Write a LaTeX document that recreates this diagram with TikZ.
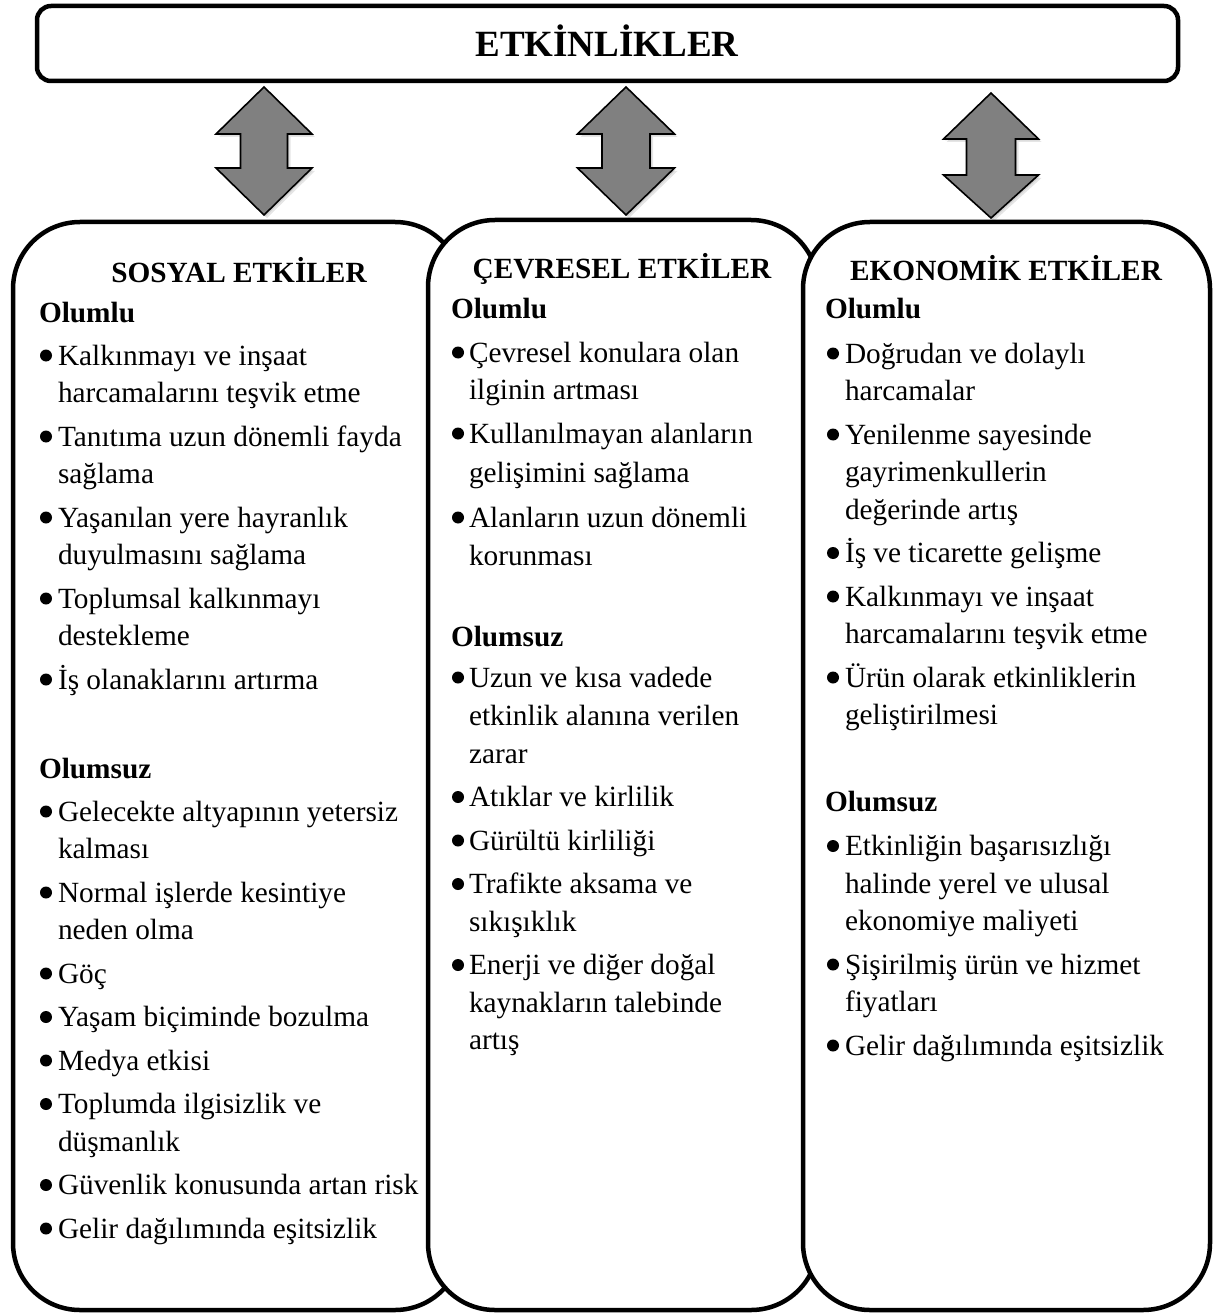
\documentclass[tikz,border=0pt]{standalone}
\usepackage{fontspec}
\setmainfont{Liberation Serif}
\begin{document}
\begin{tikzpicture}[x=1pt,y=-1pt,
  every node/.style={inner sep=0pt,outer sep=0pt},
  frame/.style={draw=black,line width=4.5pt,fill=white,rounded corners=67pt},
  titlebox/.style={draw=black,line width=4.5pt,fill=white,rounded corners=14pt},
  arrowshape/.style={draw=black,line width=1.6pt,fill=black!50,line join=miter},
  arrowhalo/.style={fill=black,opacity=0.10},
  titletext/.style={anchor=base,font=\fontsize{37}{44}\selectfont\bfseries},
  head/.style={anchor=base,font=\fontsize{29.3}{37.5}\selectfont\bfseries},
  sub/.style={anchor=base west,font=\fontsize{29.3}{37.5}\selectfont\bfseries},
  body/.style={anchor=base west,font=\fontsize{29.3}{37.5}\selectfont},
  dot/.style={circle,fill=black,minimum size=12pt}]

\useasboundingbox (0,0) rectangle (1222,1313);

% helper macros: one text line, and one bullet placed relative to a baseline
\newcommand\lineat[4]{\node[body] (#1) at (#2,#3) {#4};}
\newcommand\dotat[3]{\node[dot] (#1) at (#2,#3-9.5) {};}

% ---------- title box ----------
\draw[titlebox] (37,6) rectangle (1178,81);
\node[titletext] (title) at (607,57) {ETKİNLİKLER};

% ---------- double arrows ----------
\newcommand\updown[7]{% cx, top, upper base, lower base, bottom, head half, shaft half
  \foreach \s in {1.5,3} {
    \fill[arrowhalo] (#1+\s,#2+\s) -- (#1+#6+\s,#3+\s) -- (#1+#7+\s,#3+\s) -- (#1+#7+\s,#4+\s)
      -- (#1+#6+\s,#4+\s) -- (#1+\s,#5+\s) -- (#1-#6+\s,#4+\s) -- (#1-#7+\s,#4+\s)
      -- (#1-#7+\s,#3+\s) -- (#1-#6+\s,#3+\s) -- cycle;}
  \draw[arrowshape] (#1,#2) -- (#1+#6,#3) -- (#1+#7,#3) -- (#1+#7,#4) -- (#1+#6,#4)
    -- (#1,#5) -- (#1-#6,#4) -- (#1-#7,#4) -- (#1-#7,#3) -- (#1-#6,#3) -- cycle;}
\updown{264}{87}{134}{168}{215}{48}{23.5}
\updown{626}{87}{134}{168}{215}{48.5}{24}
\updown{991}{93}{139}{175}{218}{47.5}{24.5}

% ---------- three frames (later ones overlap earlier ones) ----------
\draw[frame] (13,222) rectangle (462,1310);
\draw[frame] (428,220) rectangle (818,1310);
\draw[frame] (803,222) rectangle (1210,1310);

% ---------- social column ----------
\node[head] (sosyal) at (239,283) {SOSYAL ETKİLER};
\node[sub] (s-olumlu) at (39,322) {Olumlu};
\dotat{sd1}{46}{365}   \lineat{s1a}{58}{365}{Kalkınmayı ve inşaat}
                       \lineat{s1b}{58}{402.5}{harcamalarını teşvik etme}
\dotat{sd2}{46}{446}   \lineat{s2a}{58}{446}{Tanıtıma uzun dönemli fayda}
                       \lineat{s2b}{58}{483.5}{sağlama}
\dotat{sd3}{46}{527}   \lineat{s3a}{58}{527}{Yaşanılan yere hayranlık}
                       \lineat{s3b}{58}{564.5}{duyulmasını sağlama}
\dotat{sd4}{46}{608}   \lineat{s4a}{58}{608}{Toplumsal kalkınmayı}
                       \lineat{s4b}{58}{645.5}{destekleme}
\dotat{sd5}{46}{689}   \lineat{s5a}{58}{689}{İş olanaklarını artırma}
\node[sub] (s-olumsuz) at (39,778) {Olumsuz};
\dotat{sd6}{46}{821}   \lineat{s6a}{58}{821}{Gelecekte altyapının yetersiz}
                       \lineat{s6b}{58}{858.5}{kalması}
\dotat{sd7}{46}{902}   \lineat{s7a}{58}{902}{Normal işlerde kesintiye}
                       \lineat{s7b}{58}{939.5}{neden olma}
\dotat{sd8}{46}{983}   \lineat{s8a}{58}{983}{Göç}
\dotat{sd9}{46}{1026.5}\lineat{s9a}{58}{1026.5}{Yaşam biçiminde bozulma}
\dotat{sd10}{46}{1070} \lineat{s10a}{58}{1070}{Medya etkisi}
\dotat{sd11}{46}{1113.5}\lineat{s11a}{58}{1113.5}{Toplumda ilgisizlik ve}
                       \lineat{s11b}{58}{1151}{düşmanlık}
\dotat{sd12}{46}{1194.5}\lineat{s12a}{58}{1194.5}{Güvenlik konusunda artan risk}
\dotat{sd13}{46}{1238} \lineat{s13a}{58}{1238}{Gelir dağılımında eşitsizlik}

% ---------- environmental column ----------
\node[head] (cevresel) at (622,279) {ÇEVRESEL ETKİLER};
\node[sub] (c-olumlu) at (451,319) {Olumlu};
\dotat{cd1}{458}{362}  \lineat{c1a}{469}{362}{Çevresel konulara olan}
                       \lineat{c1b}{469}{399}{ilginin artması}
\dotat{cd2}{458}{443}  \lineat{c2a}{469}{443}{Kullanılmayan alanların}
                       \lineat{c2b}{469}{482}{gelişimini sağlama}
\dotat{cd3}{458}{527}  \lineat{c3a}{469}{527}{Alanların uzun dönemli}
                       \lineat{c3b}{469}{565}{korunması}
\node[sub] (c-olumsuz) at (451,646) {Olumsuz};
\dotat{cd4}{458}{687}  \lineat{c4a}{469}{687}{Uzun ve kısa vadede}
                       \lineat{c4b}{469}{725}{etkinlik alanına verilen}
                       \lineat{c4c}{469}{763}{zarar}
\dotat{cd5}{458}{806.5}\lineat{c5a}{469}{806.5}{Atıklar ve kirlilik}
\dotat{cd6}{458}{850}  \lineat{c6a}{469}{850}{Gürültü kirliliği}
\dotat{cd7}{458}{893.5}\lineat{c7a}{469}{893.5}{Trafikte aksama ve}
                       \lineat{c7b}{469}{931}{sıkışıklık}
\dotat{cd8}{458}{974.5}\lineat{c8a}{469}{974.5}{Enerji ve diğer doğal}
                       \lineat{c8b}{469}{1012}{kaynakların talebinde}
                       \lineat{c8c}{469}{1049.5}{artış}

% ---------- economic column ----------
\node[head] (ekonomik) at (1006,281) {EKONOMİK ETKİLER};
\node[sub] (e-olumlu) at (825,318) {Olumlu};
\dotat{ed1}{833}{363}  \lineat{e1a}{845}{363}{Doğrudan ve dolaylı}
                       \lineat{e1b}{845}{400.5}{harcamalar}
\dotat{ed2}{833}{444}  \lineat{e2a}{845}{444}{Yenilenme sayesinde}
                       \lineat{e2b}{845}{481.5}{gayrimenkullerin}
                       \lineat{e2c}{845}{519}{değerinde artış}
\dotat{ed3}{833}{562.5}\lineat{e3a}{845}{562.5}{İş ve ticarette gelişme}
\dotat{ed4}{833}{606}  \lineat{e4a}{845}{606}{Kalkınmayı ve inşaat}
                       \lineat{e4b}{845}{643.5}{harcamalarını teşvik etme}
\dotat{ed5}{833}{687}  \lineat{e5a}{845}{687}{Ürün olarak etkinliklerin}
                       \lineat{e5b}{845}{724.5}{geliştirilmesi}
\node[sub] (e-olumsuz) at (825,811.5) {Olumsuz};
\dotat{ed6}{833}{855.5}\lineat{e6a}{845}{855.5}{Etkinliğin başarısızlığı}
                       \lineat{e6b}{845}{893}{halinde yerel ve ulusal}
                       \lineat{e6c}{845}{930.5}{ekonomiye maliyeti}
\dotat{ed7}{833}{974}  \lineat{e7a}{845}{974}{Şişirilmiş ürün ve hizmet}
                       \lineat{e7b}{845}{1011.5}{fiyatları}
\dotat{ed8}{833}{1055} \lineat{e8a}{845}{1055}{Gelir dağılımında eşitsizlik}

\end{tikzpicture}
\end{document}
